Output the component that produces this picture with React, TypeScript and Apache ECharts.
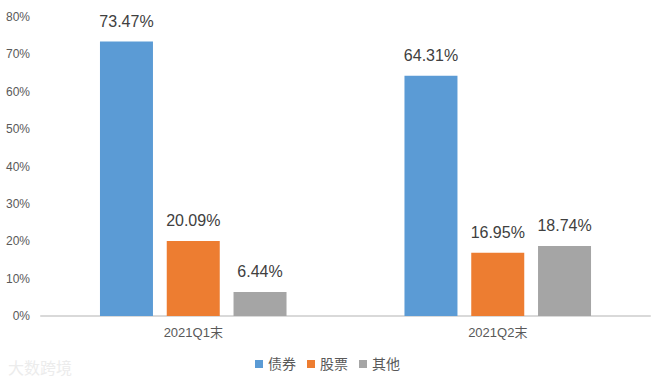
import React, { useEffect, useRef } from "react";
import * as echarts from "echarts";

const categories = ["2021Q1末", "2021Q2末"];
const bondValues = [73.47, 64.31];
const stockValues = [20.09, 16.95];
const otherValues = [6.44, 18.74];
const seriesNames = ["债券", "股票", "其他"];
const yTicks = [0, 10, 20, 30, 40, 50, 60, 70, 80];

export default function App() {
  const ref = useRef<HTMLDivElement>(null);
  useEffect(() => {
    if (!ref.current) return;
    const chart = echarts.init(ref.current, null, { renderer: "svg" });
    const font = "'Liberation Sans', Arial, 'Noto Sans CJK SC', sans-serif";
    const label = {
      show: true,
      position: "top" as const,
      distance: 12,
      color: "#404040",
      fontSize: 16,
      fontFamily: font,
      formatter: (p: any) => p.value.toFixed(2) + "%",
    };
    const mk = (name: string, data: number[], color: string) => ({
      name,
      type: "bar",
      data,
      barWidth: 53,
      barGap: "26%",
      itemStyle: { color },
      label,
    });
    chart.setOption({
      animation: false,
      backgroundColor: "#ffffff",
      textStyle: { fontFamily: font },
      grid: { left: 41, right: 5, top: 17, bottom: 65 },
      legend: {
        bottom: 5,
        left: "center",
        itemWidth: 8,
        itemHeight: 8,
        itemGap: 11,
        icon: "rect",
        textStyle: { color: "#595959", fontSize: 14, fontFamily: font },
        data: seriesNames,
      },
      xAxis: {
        type: "category",
        data: categories,
        axisLine: { lineStyle: { color: "#D9D9D9", width: 2 } },
        axisTick: { show: false },
        axisLabel: { color: "#595959", fontSize: 13, margin: 10 },
      },
      yAxis: {
        type: "value",
        min: yTicks[0],
        max: yTicks[yTicks.length - 1],
        interval: 10,
        splitLine: { show: false },
        axisLine: { show: false },
        axisTick: { show: false },
        axisLabel: {
          color: "#595959",
          fontSize: 12,
          margin: 11,
          formatter: (v: number) => v + "%",
        },
      },
      graphic: [
        {
          type: "text",
          left: 8,
          bottom: 6,
          style: {
            text: "大数跨境",
            fill: "#ececec",
            fontSize: 16,
            fontFamily: "'Noto Sans CJK SC', sans-serif",
          },
        },
      ],
      series: [
        mk(seriesNames[0], bondValues, "#5B9BD5"),
        mk(seriesNames[1], stockValues, "#ED7D31"),
        mk(seriesNames[2], otherValues, "#A5A5A5"),
      ],
    });
    return () => chart.dispose();
  }, []);
  return <div ref={ref} style={{ width: 655, height: 381, position: "absolute", left: 0, top: 0 }} />;
}
